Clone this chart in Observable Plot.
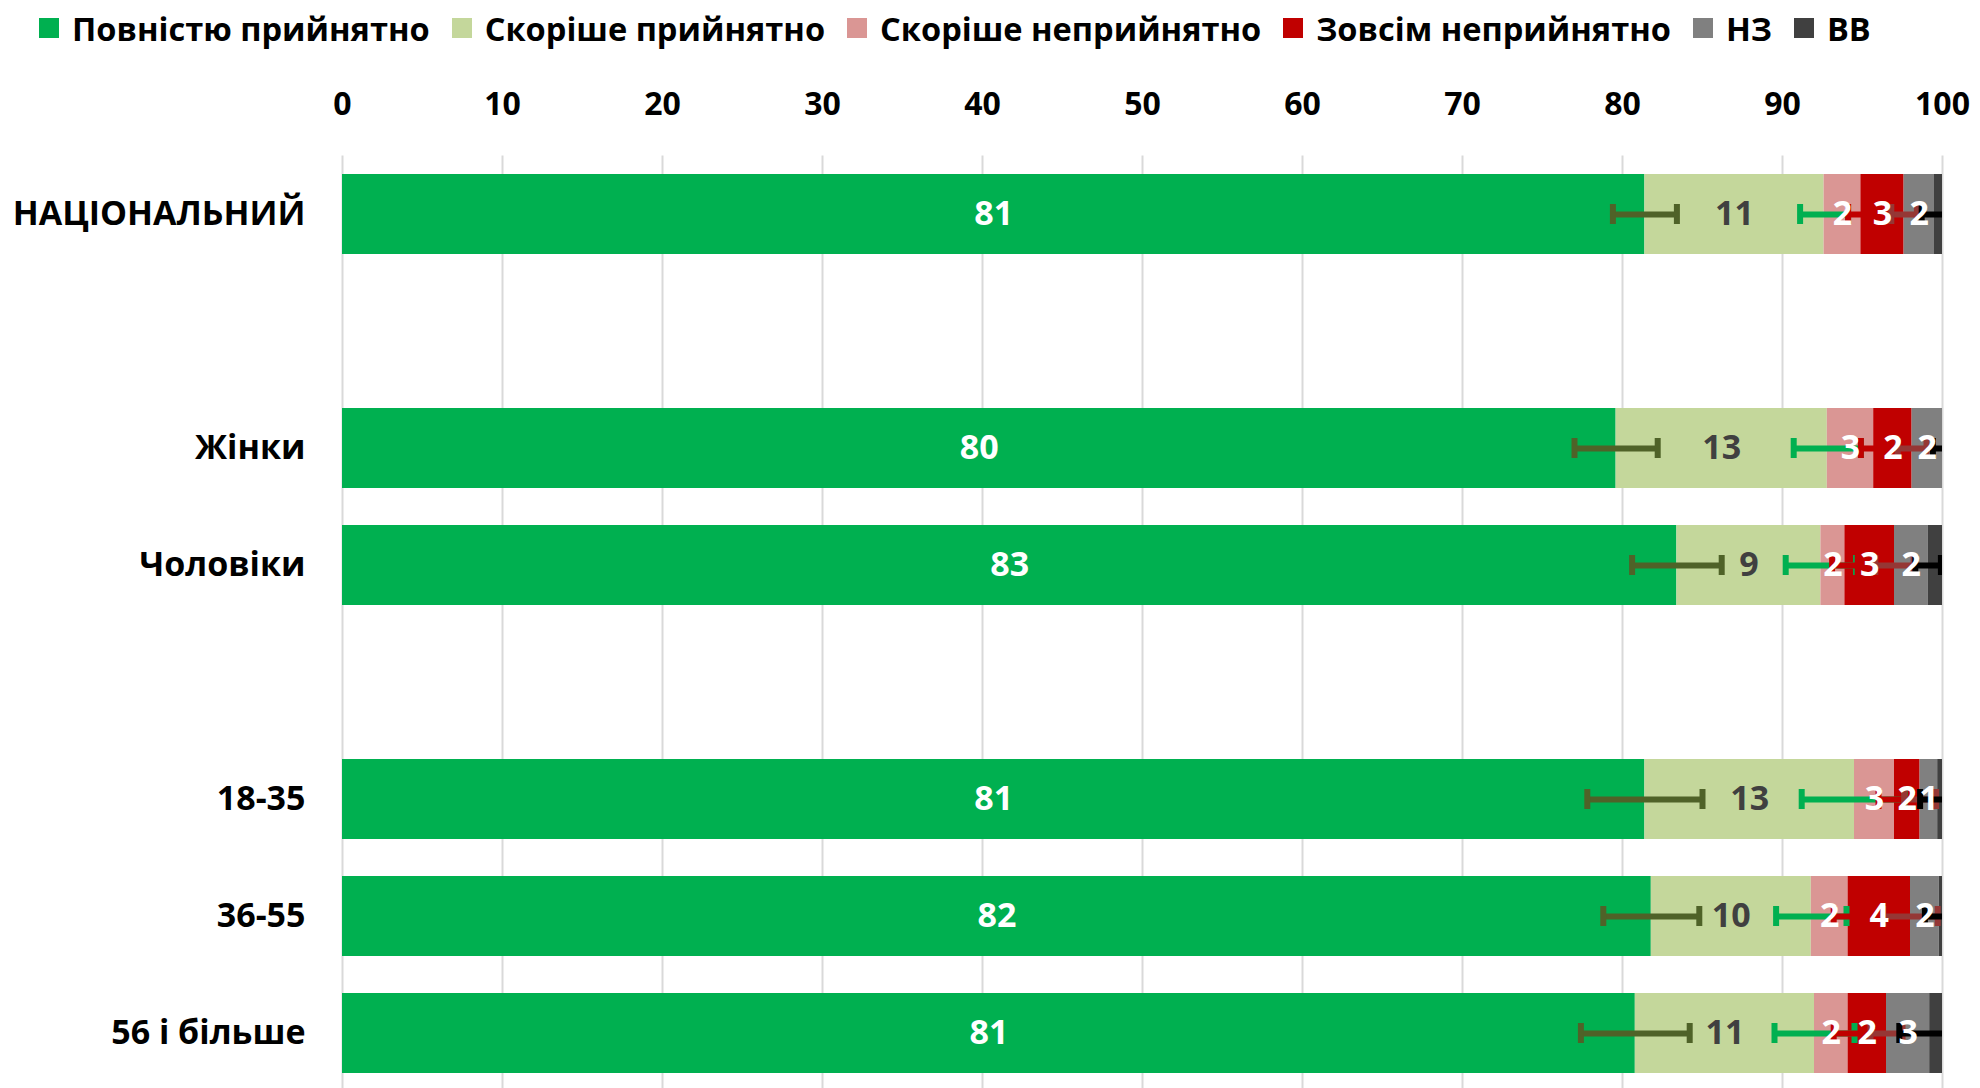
<!DOCTYPE html>
<html><head><meta charset="utf-8">
<script src="https://cdn.jsdelivr.net/npm/d3@7"></script>
<script src="https://cdn.jsdelivr.net/npm/@observablehq/plot@0.6"></script>
<style>
html,body{margin:0;padding:0;background:#fff;overflow:hidden;}
#legend{display:flex;align-items:center;height:56px;padding-left:39px;font-family:"Open Sans",sans-serif;font-weight:700;font-size:32.6px;color:#000;white-space:nowrap;}
.item{display:flex;align-items:center;margin-right:22px;}
.sw{width:20px;height:20px;margin-right:13px;flex:none;}
svg{display:block}
</style></head><body>
<div id="legend"></div>
<div id="chart"></div>
<script>
// ---- data ----
const categories = ["НАЦІОНАЛЬНИЙ", " ", "Жінки", "Чоловіки", "  ", "18-35", "36-55", "56 і більше"];
const rows = ["НАЦІОНАЛЬНИЙ", "Жінки", "Чоловіки", "18-35", "36-55", "56 і більше"];
const series = ["Повністю прийнятно", "Скоріше прийнятно", "Скоріше неприйнятно", "Зовсім неприйнятно", "НЗ", "ВВ"];
const colors = ["#00B050", "#C4D79B", "#DA9694", "#C00000", "#808080", "#404040"];
const tickLabels = [0, 10, 20, 30, 40, 50, 60, 70, 80, 90, 100];

const fullyAcceptable     = [81.4, 79.6, 83.4, 81.4, 81.8, 80.8];
const ratherAcceptable    = [11.2, 13.2,  9.0, 13.1, 10.0, 11.2];
const ratherUnacceptable  = [ 2.3,  2.9,  1.5,  2.5,  2.3,  2.1];
const totallyUnacceptable = [ 2.7,  2.4,  3.1,  1.6,  3.9,  2.4];
const hardToSay           = [ 1.9,  1.9,  2.1,  1.1,  1.8,  2.7];
const refused             = [ 0.5,  0.0,  0.9,  0.3,  0.2,  0.8];

// error bar half-widths (at the end of each segment)
const errFully     = [2.0, 2.6, 2.8, 3.6, 3.0, 3.4];
const errRather    = [1.5, 2.1, 2.2, 3.3, 2.2, 2.5];
const errRatherUn  = [0.8, 0.8, 0.8, 1.0, 0.9, 0.9];
const errTotally   = [0.8, 0.9, 1.2, 1.0, 1.7, 1.0];
const errHard      = [0.8, 0.6, 0.8, 1.1, 0.9, 1.9];
const errColors = ["#4F6228", "#00B050", "#C00000", "#953735", "#000000"];

// ---- build tables ----
const valueArrays = [fullyAcceptable, ratherAcceptable, ratherUnacceptable, totallyUnacceptable, hardToSay, refused];
const errArrays = [errFully, errRather, errRatherUn, errTotally, errHard];
const segs = [];
const errs = [];
rows.forEach((cat, ri) => {
  let acc = 0;
  valueArrays.forEach((arr, si) => {
    const v = arr[ri];
    segs.push({cat, series: series[si], si, value: v, x1: acc, x2: acc + v});
    acc += v;
    if (si < errArrays.length) {
      const e = errArrays[si][ri];
      errs.push({cat, si, c: acc, lo: acc - e, hi: acc + e});
    }
  });
});

// ---- legend ----
const lg = document.getElementById("legend");
series.forEach((s, i) => {
  const it = document.createElement("div"); it.className = "item";
  const sw = document.createElement("div"); sw.className = "sw"; sw.style.background = colors[i];
  const tx = document.createElement("span"); tx.textContent = s;
  it.appendChild(sw); it.appendChild(tx); lg.appendChild(it);
});

// ---- chart ----
const fs = 34;
const marks = [
  Plot.ruleX(tickLabels, {x: d => d, stroke: "#D9D9D9", strokeWidth: 2}),
  Plot.text(tickLabels, {x: d => d, text: d => String(d), frameAnchor: "top", dy: -51, lineAnchor: "middle", fontSize: 32, fontWeight: 700, fill: "#000"}),
  Plot.text(rows, {y: d => d, text: d => d, frameAnchor: "left", dx: -37, textAnchor: "end", lineAnchor: "middle", fontSize: fs, fontWeight: 700, fill: "#000"}),
  Plot.barX(segs, {x1: "x1", x2: "x2", y: "cat", fill: "series", insetLeft: 0, insetRight: 0})
];
errColors.forEach((col, si) => {
  const d = errs.filter(e => e.si === si);
  marks.push(Plot.ruleY(d, {y: "cat", x1: "lo", x2: "hi", stroke: col, strokeWidth: 6, clip: true}));
  marks.push(Plot.tickX(d, {y: "cat", x: "lo", stroke: col, strokeWidth: 6, insetTop: 30, insetBottom: 30, clip: true}));
  marks.push(Plot.tickX(d, {y: "cat", x: "hi", stroke: col, strokeWidth: 6, insetTop: 30, insetBottom: 30, clip: true}));
});
marks.push(Plot.text(segs, {filter: d => d.si === 1, x: d => (d.x1 + d.x2) / 2, y: "cat", text: d => String(Math.round(d.value)), fill: "#404040", fontSize: fs, fontWeight: 700, lineAnchor: "middle"}));
marks.push(Plot.text(segs, {filter: d => d.si !== 1 && d.si < 5, x: d => (d.x1 + d.x2) / 2, y: "cat", text: d => String(Math.round(d.value)), fill: "#FFFFFF", fontSize: fs, fontWeight: 700, lineAnchor: "middle"}));

const chart = Plot.plot({
  width: 1980,
  height: 1036,
  marginTop: 99.5,
  marginBottom: 0.5,
  marginLeft: 342,
  marginRight: 38,
  style: {fontFamily: '"Open Sans", sans-serif', background: "#fff", overflow: "visible"},
  x: {domain: [0, 100], axis: null},
  y: {domain: categories, paddingInner: 0.316, paddingOuter: 0.158, axis: null},
  color: {domain: series, range: colors},
  marks
});
document.getElementById("chart").appendChild(chart);
</script>
</body></html>
